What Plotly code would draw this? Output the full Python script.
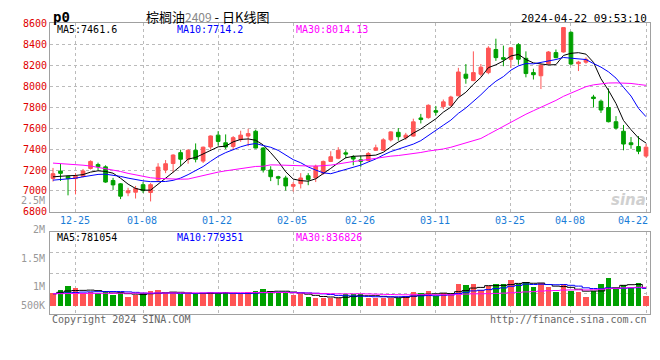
import plotly.graph_objects as go

# ---------------- data ----------------
dates = ["12-20", "12-21", "12-22", "12-25", "12-26", "12-27", "12-28", "12-29",
         "01-02", "01-03", "01-04", "01-05", "01-08", "01-09", "01-10", "01-11", "01-12",
         "01-15", "01-16", "01-17", "01-18", "01-19", "01-22", "01-23", "01-24", "01-25",
         "01-26", "01-29", "01-30", "01-31",
         "02-01", "02-02", "02-05", "02-06", "02-07", "02-08", "02-19", "02-20", "02-21",
         "02-22", "02-23", "02-26", "02-27", "02-28", "02-29",
         "03-01", "03-04", "03-05", "03-06", "03-07", "03-08", "03-11", "03-12", "03-13",
         "03-14", "03-15", "03-18", "03-19", "03-20", "03-21", "03-22", "03-25", "03-26",
         "03-27", "03-28", "03-29",
         "04-01", "04-02", "04-03", "04-08", "04-09", "04-10", "04-11", "04-12", "04-15",
         "04-16", "04-17", "04-18", "04-19", "04-22"]

opens = [7120, 7190, 7140, 7118, 7139, 7215, 7252, 7230, 7100, 7068,
         6982, 6988, 7060, 6985, 7105, 7200, 7262, 7366, 7303, 7388,
         7285, 7420, 7533, 7460, 7424, 7491, 7524, 7570, 7410, 7200,
         7136, 7124, 7045, 7070, 7145, 7124, 7170, 7282, 7312, 7364,
         7327, 7297, 7291, 7388, 7388, 7488, 7560, 7509, 7524, 7697,
         7700, 7767, 7806, 7818, 7909, 8115, 8054, 8115, 8130, 8351,
         8273, 8257, 8397, 8267, 8130, 8100, 8215, 8321, 8327, 8515,
         8215, 8230, 7897, 7857, 7797, 7661, 7570, 7460, 7424, 7333]
highs = [7220, 7260, 7142, 7170, 7210, 7292, 7270, 7245, 7125, 7075,
         7030, 7048, 7085, 7075, 7265, 7295, 7350, 7394, 7400, 7454,
         7424, 7530, 7570, 7540, 7524, 7575, 7594, 7585, 7418, 7236,
         7145, 7145, 7085, 7170, 7170, 7251, 7290, 7379, 7418, 7388,
         7342, 7333, 7372, 7442, 7503, 7570, 7600, 7555, 7690, 7736,
         7827, 7812, 7873, 7909, 8176, 8212, 8333, 8212, 8382, 8454,
         8388, 8373, 8412, 8333, 8167, 8212, 8336, 8351, 8562, 8524,
         8242, 8276, 7918, 7873, 7979, 7715, 7630, 7515, 7524, 7448]
lows = [7090, 7095, 6958, 6967, 7130, 7205, 7195, 7078, 7010, 6922,
        6950, 6928, 6980, 6900, 7085, 7170, 7175, 7236, 7260, 7273,
        7267, 7395, 7433, 7400, 7390, 7470, 7427, 7406, 7176, 7094,
        7055, 7003, 6994, 7024, 7055, 7085, 7155, 7276, 7303, 7312,
        7245, 7230, 7280, 7382, 7382, 7473, 7480, 7488, 7518, 7645,
        7690, 7721, 7782, 7806, 7903, 8024, 8048, 8094, 8115, 8242,
        8191, 8176, 8206, 8085, 8064, 7973, 8206, 8267, 8321, 8200,
        8145, 8215, 7797, 7745, 7655, 7585, 7388, 7403, 7351, 7318]
closes = [7165, 7168, 7118, 7140, 7191, 7282, 7232, 7085, 7058, 6950,
          7002, 7024, 7003, 7060, 7228, 7260, 7343, 7303, 7388, 7303,
          7418, 7525, 7473, 7420, 7509, 7533, 7548, 7410, 7200, 7136,
          7122, 7048, 7062, 7124, 7110, 7236, 7282, 7327, 7388, 7352,
          7305, 7283, 7358, 7412, 7488, 7564, 7518, 7533, 7660, 7682,
          7818, 7752, 7851, 7897, 8136, 8076, 8130, 8182, 8364, 8273,
          8258, 8367, 8258, 8121, 8110, 8200, 8327, 8273, 8560, 8212,
          8230, 8257, 7882, 7773, 7661, 7600, 7448, 7442, 7379, 7418]
volumes = [569000, 712000, 882000, 797000, 569000, 626000, 598000, 669000, 484000, 626000,
           427000, 498000, 569000, 669000, 712000, 569000, 626000, 527000, 527000, 583000,
           583000, 626000, 527000, 626000, 527000, 527000, 626000, 669000, 754000, 669000,
           626000, 626000, 484000, 527000, 427000, 370000, 370000, 370000, 370000, 527000,
           527000, 527000, 384000, 384000, 384000, 384000, 384000, 455000, 626000, 569000,
           669000, 455000, 598000, 527000, 996000, 925000, 996000, 740000, 911000, 996000,
           996000, 1167000, 996000, 1096000, 840000, 1053000, 840000, 640000, 996000, 669000,
           640000, 413000, 669000, 996000, 1238000, 783000, 953000, 811000, 1053000, 455000]

# moving-average values before enough visible history exists
ma5_lead = [7135, 7142, 7145, 7148]
ma10_lead = [7103, 7108, 7113, 7122, 7135, 7148, 7158, 7160, 7152]
ma30_lead = [7266, 7262, 7257, 7252, 7246, 7238, 7226, 7214, 7200, 7186,
             7168, 7152, 7136, 7126, 7120, 7116, 7113, 7112, 7114, 7132,
             7150, 7168, 7180, 7192, 7202, 7215, 7228, 7234, 7236]
vol_ma5_lead = [560000, 620000, 680000, 700000]
vol_ma10_lead = [560000, 575000, 595000, 615000, 630000, 640000, 648000, 652000, 655000]
vol_ma30_lead = [560000, 562000, 565000, 567000, 570000, 572000, 574000, 576000, 578000, 580000,
                 582000, 584000, 586000, 588000, 590000, 591000, 592000, 593000, 594000, 595000,
                 596000, 597000, 598000, 600000, 602000, 604000, 606000, 608000, 610000]

tick_dates = ["12-25", "01-08", "01-22", "02-05", "02-26", "03-11", "03-25", "04-08", "04-22"]
price_legend = ["MA5:7461.6", "MA10:7714.2", "MA30:8014.13"]
volume_legend = ["MA5:781054", "MA10:779351", "MA30:836826"]
volume_axis_labels = ["2.5M", "2M", "1.5M", "1M", "500K"]
title_name = "棕榈油"
title_code = "2409"
title_rest = " - 日K线图"
symbol = "p0"
timestamp = "2024-04-22 09:53:10"
footer_left = "Copyright 2024 SINA.COM"
footer_right = "http://finance.sina.com.cn"


def moving_avg(values, n, lead):
    out = list(lead)
    for i in range(len(lead), len(values)):
        out.append(sum(values[i - n + 1:i + 1]) / n)
    return out


x = list(range(len(dates)))
UP = "#ff5555"
DOWN = "#00a000"
MONO = "DejaVu Sans Mono"
W, H = 660, 360


def py(px):
    return (H - px) / H


ma_colors = ["#000000", "#0000ff", "#ff00ff"]

fig = go.Figure()

fig.add_trace(go.Candlestick(
    x=x, open=opens, high=highs, low=lows, close=closes,
    increasing=dict(line=dict(color=UP, width=1), fillcolor=UP),
    decreasing=dict(line=dict(color=DOWN, width=1), fillcolor=DOWN),
    whiskerwidth=0, xaxis="x", yaxis="y", showlegend=False, hoverinfo="skip"))

for n, lead, col in [(5, ma5_lead, ma_colors[0]), (10, ma10_lead, ma_colors[1]), (30, ma30_lead, ma_colors[2])]:
    fig.add_trace(go.Scatter(x=x, y=moving_avg(closes, n, lead), mode="lines",
                             line=dict(color=col, width=1), xaxis="x", yaxis="y",
                             showlegend=False, hoverinfo="skip"))

bar_colors = [UP if c >= o else DOWN for o, c in zip(opens, closes)]
fig.add_trace(go.Bar(x=x, y=volumes, marker=dict(color=bar_colors, line=dict(width=0)),
                     width=0.72, xaxis="x2", yaxis="y2", showlegend=False, hoverinfo="skip"))

for n, lead, col in [(5, vol_ma5_lead, ma_colors[0]), (10, vol_ma10_lead, ma_colors[1]), (30, vol_ma30_lead, ma_colors[2])]:
    fig.add_trace(go.Scatter(x=x, y=moving_avg(volumes, n, lead), mode="lines",
                             line=dict(color=col, width=1, shape="hvh"), xaxis="x2", yaxis="y2",
                             showlegend=False, hoverinfo="skip"))

tickvals = [dates.index(d) for d in tick_dates]
xdom = [50 / W, 650 / W]
xrange = [-0.4, len(dates) - 1 + 0.53]
grid = dict(showgrid=True, gridcolor="#bbbbbb", griddash="dot", gridwidth=1)
frame = dict(showline=True, mirror=True, linecolor="#a0a0a0", linewidth=1, zeroline=False)

vol_range = [-324000, 3262000]
vol_grid = [vol_range[0] + f * (vol_range[1] - vol_range[0]) for f in (0.25, 0.5, 0.75)]

fig.update_layout(
    width=W, height=H, margin=dict(l=0, r=0, t=0, b=0),
    paper_bgcolor="white", plot_bgcolor="white", showlegend=False,
    xaxis=dict(domain=xdom, range=xrange, tickvals=tickvals, showticklabels=False, ticks="",
               anchor="y", rangeslider=dict(visible=False), **grid, **frame),
    yaxis=dict(domain=[py(213), py(18)], range=[6800, 8600], tick0=6800, dtick=200,
               tickfont=dict(family=MONO, size=10, color="#e00000"), ticks="",
               anchor="x", **grid, **frame),
    xaxis2=dict(domain=xdom, range=xrange, tickvals=tickvals, showticklabels=False, ticks="",
                anchor="y2", matches="x", **grid, **frame),
    yaxis2=dict(domain=[py(318.3), py(234.3)], range=vol_range, tickvals=vol_grid,
                showticklabels=False, ticks="", anchor="x2", **grid, **frame),
    bargap=0,
)

ann = []
# title row
ann.append(dict(text="<b>" + symbol + "</b>", x=51, y=py(11), xref="paper", yref="paper",
                showarrow=False, xanchor="left", yanchor="middle",
                font=dict(family=MONO, size=14, color="#000")))
ann.append(dict(text=title_name + "<span style='color:#888888;font-size:12px'>" + title_code + "</span>" + title_rest,
                x=207, y=py(11), xref="paper", yref="paper", showarrow=False,
                xanchor="center", yanchor="middle",
                font=dict(family="Noto Sans CJK SC", size=13, color="#000")))
ann.append(dict(text=timestamp, x=649, y=py(12.5), xref="paper", yref="paper", showarrow=False,
                xanchor="right", yanchor="middle", font=dict(family=MONO, size=11, color="#000")))
# legends
for txt, xp, col in zip(price_legend, [55, 175, 294], ma_colors):
    ann.append(dict(text=txt, x=xp, y=py(24.5), xref="paper", yref="paper", showarrow=False,
                    xanchor="left", yanchor="middle", font=dict(family=MONO, size=10, color=col)))
for txt, xp, col in zip(volume_legend, [55, 175, 294], ma_colors):
    ann.append(dict(text=txt, x=xp, y=py(239), xref="paper", yref="paper", showarrow=False,
                    xanchor="left", yanchor="middle", font=dict(family=MONO, size=10, color=col)))
# volume axis labels
for txt, ypx in zip(volume_axis_labels, [201, 230.7, 261, 290.3, 310]):
    ann.append(dict(text=txt, x=46.5, y=py(ypx), xref="paper", yref="paper", showarrow=False,
                    xanchor="right", yanchor="middle", font=dict(family=MONO, size=10, color="#999999")))
# date labels
for d in tick_dates:
    last = d == tick_dates[-1]
    ann.append(dict(text=d, x=dates.index(d), y=py(221.5), xref="x", yref="paper", showarrow=False,
                    xanchor="right" if last else "center", xshift=4 if last else -1, yanchor="middle",
                    font=dict(family=MONO, size=10, color="#1a7dd7")))
# footer
ann.append(dict(text=footer_left, x=50, y=py(324.5), xref="paper", yref="paper", showarrow=False,
                xanchor="left", yanchor="middle", font=dict(family=MONO, size=10, color="#666666")))
ann.append(dict(text=footer_right, x=649, y=py(324.5), xref="paper", yref="paper", showarrow=False,
                xanchor="right", yanchor="middle", font=dict(family=MONO, size=10, color="#666666")))
# watermark
ann.append(dict(text="sina", x=648, y=py(201), xref="paper", yref="paper", showarrow=False,
                xanchor="right", yanchor="middle",
                font=dict(family="DejaVu Sans", size=15, color="#d0d0d0", weight="bold", style="italic")))

for a in ann:
    if a["xref"] == "paper":
        a["x"] = a["x"] / W
fig.update_layout(annotations=ann)

fig.write_html("out.html", config={"displayModeBar": False, "staticPlot": True},
               post_script="document.body.style.margin='0px';document.body.style.overflow='hidden';")
